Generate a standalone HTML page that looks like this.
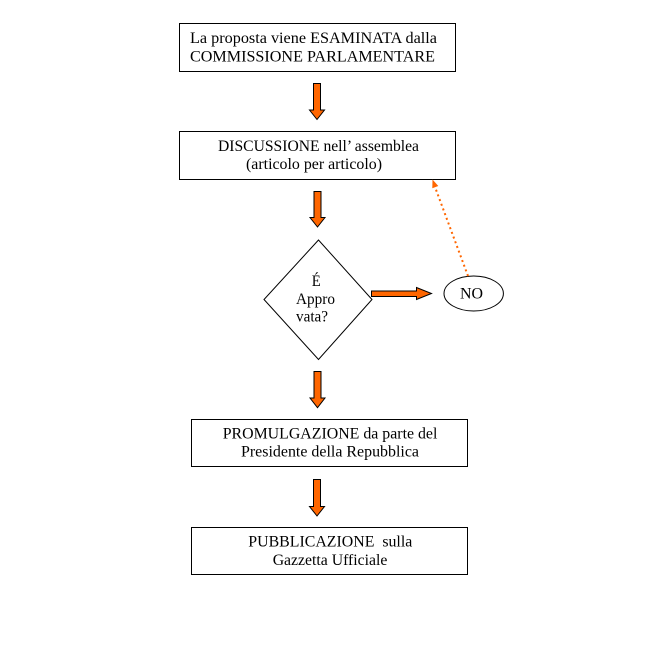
<!DOCTYPE html>
<html><head><meta charset="utf-8"><style>
html,body{margin:0;padding:0;background:#fff;}
svg{display:block;}
text{font-family:"Liberation Serif","Times New Roman",serif;font-size:16px;fill:#000;}
</style></head><body>
<svg width="660" height="660" viewBox="0 0 660 660" xmlns="http://www.w3.org/2000/svg">
<rect x="0" y="0" width="660" height="660" fill="#fff"/>
<!-- Box 1 -->
<rect x="179.5" y="23.5" width="276" height="48" fill="#fff" stroke="#000" stroke-width="1"/>
<text x="190" y="43" textLength="247" lengthAdjust="spacingAndGlyphs">La proposta viene ESAMINATA dalla</text>
<text x="190" y="61.5" textLength="245" lengthAdjust="spacingAndGlyphs">COMMISSIONE PARLAMENTARE</text>
<!-- Arrow 1 -->
<polygon points="313.5,83.5 320.5,83.5 320.5,110 324.5,110 317,119.5 309.5,110 313.5,110" fill="#FF6600" stroke="#000" stroke-width="1"/>
<!-- Box 2 -->
<rect x="179.5" y="131.5" width="276" height="48" fill="#fff" stroke="#000" stroke-width="1"/>
<text x="218" y="151" textLength="201" lengthAdjust="spacingAndGlyphs">DISCUSSIONE nell’ assemblea</text>
<text x="246" y="169" textLength="136" lengthAdjust="spacingAndGlyphs">(articolo per articolo)</text>
<!-- Arrow 2 -->
<polygon points="314,191.5 321,191.5 321,217.5 325,217.5 317.5,227 310,217.5 314,217.5" fill="#FF6600" stroke="#000" stroke-width="1"/>
<!-- Diamond -->
<polygon points="318.5,240 264,299.5 318.5,359.5 372,299.5" fill="#fff" stroke="#000" stroke-width="1"/>
<text x="311.7" y="286" textLength="9" lengthAdjust="spacingAndGlyphs">É</text>
<text x="296" y="304" textLength="39" lengthAdjust="spacingAndGlyphs">Appro</text>
<text x="296" y="321.7" textLength="32" lengthAdjust="spacingAndGlyphs">vata?</text>
<!-- Horizontal arrow -->
<polygon points="371.5,291 416.5,291 416.5,287.5 431.5,293.5 416.5,299.5 416.5,296.5 371.5,296.5" fill="#FF6600" stroke="#000" stroke-width="1"/>
<!-- NO ellipse -->
<ellipse cx="473.7" cy="293.5" rx="29.7" ry="17.5" fill="#fff" stroke="#000" stroke-width="1"/>
<text x="460" y="298.5" textLength="23" lengthAdjust="spacingAndGlyphs">NO</text>
<!-- Dotted return arrow -->
<line x1="468" y1="276" x2="435" y2="187" stroke="#FF6600" stroke-width="2" stroke-dasharray="2,3"/>
<polygon points="432.5,179.5 438.3,186 432.3,188.2" fill="#FF6600"/>
<!-- Arrow 3 -->
<polygon points="314,371.5 321,371.5 321,398 325,398 317.5,407.7 310,398 314,398" fill="#FF6600" stroke="#000" stroke-width="1"/>
<!-- Box 3 -->
<rect x="191.5" y="419.5" width="276" height="47" fill="#fff" stroke="#000" stroke-width="1"/>
<text x="222.7" y="438.3" textLength="214.7" lengthAdjust="spacingAndGlyphs">PROMULGAZIONE da parte del</text>
<text x="241" y="456.7" textLength="178" lengthAdjust="spacingAndGlyphs">Presidente della Repubblica</text>
<!-- Arrow 4 -->
<polygon points="313.5,479.5 320.5,479.5 320.5,506.5 324.5,506.5 317,516 309.5,506.5 313.5,506.5" fill="#FF6600" stroke="#000" stroke-width="1"/>
<!-- Box 4 -->
<rect x="191.5" y="527.5" width="276" height="47" fill="#fff" stroke="#000" stroke-width="1"/>
<text x="248.3" y="546.7" textLength="164" lengthAdjust="spacingAndGlyphs" xml:space="preserve">PUBBLICAZIONE  sulla</text>
<text x="272.7" y="565" textLength="114.7" lengthAdjust="spacingAndGlyphs">Gazzetta Ufficiale</text>
</svg>
</body></html>
